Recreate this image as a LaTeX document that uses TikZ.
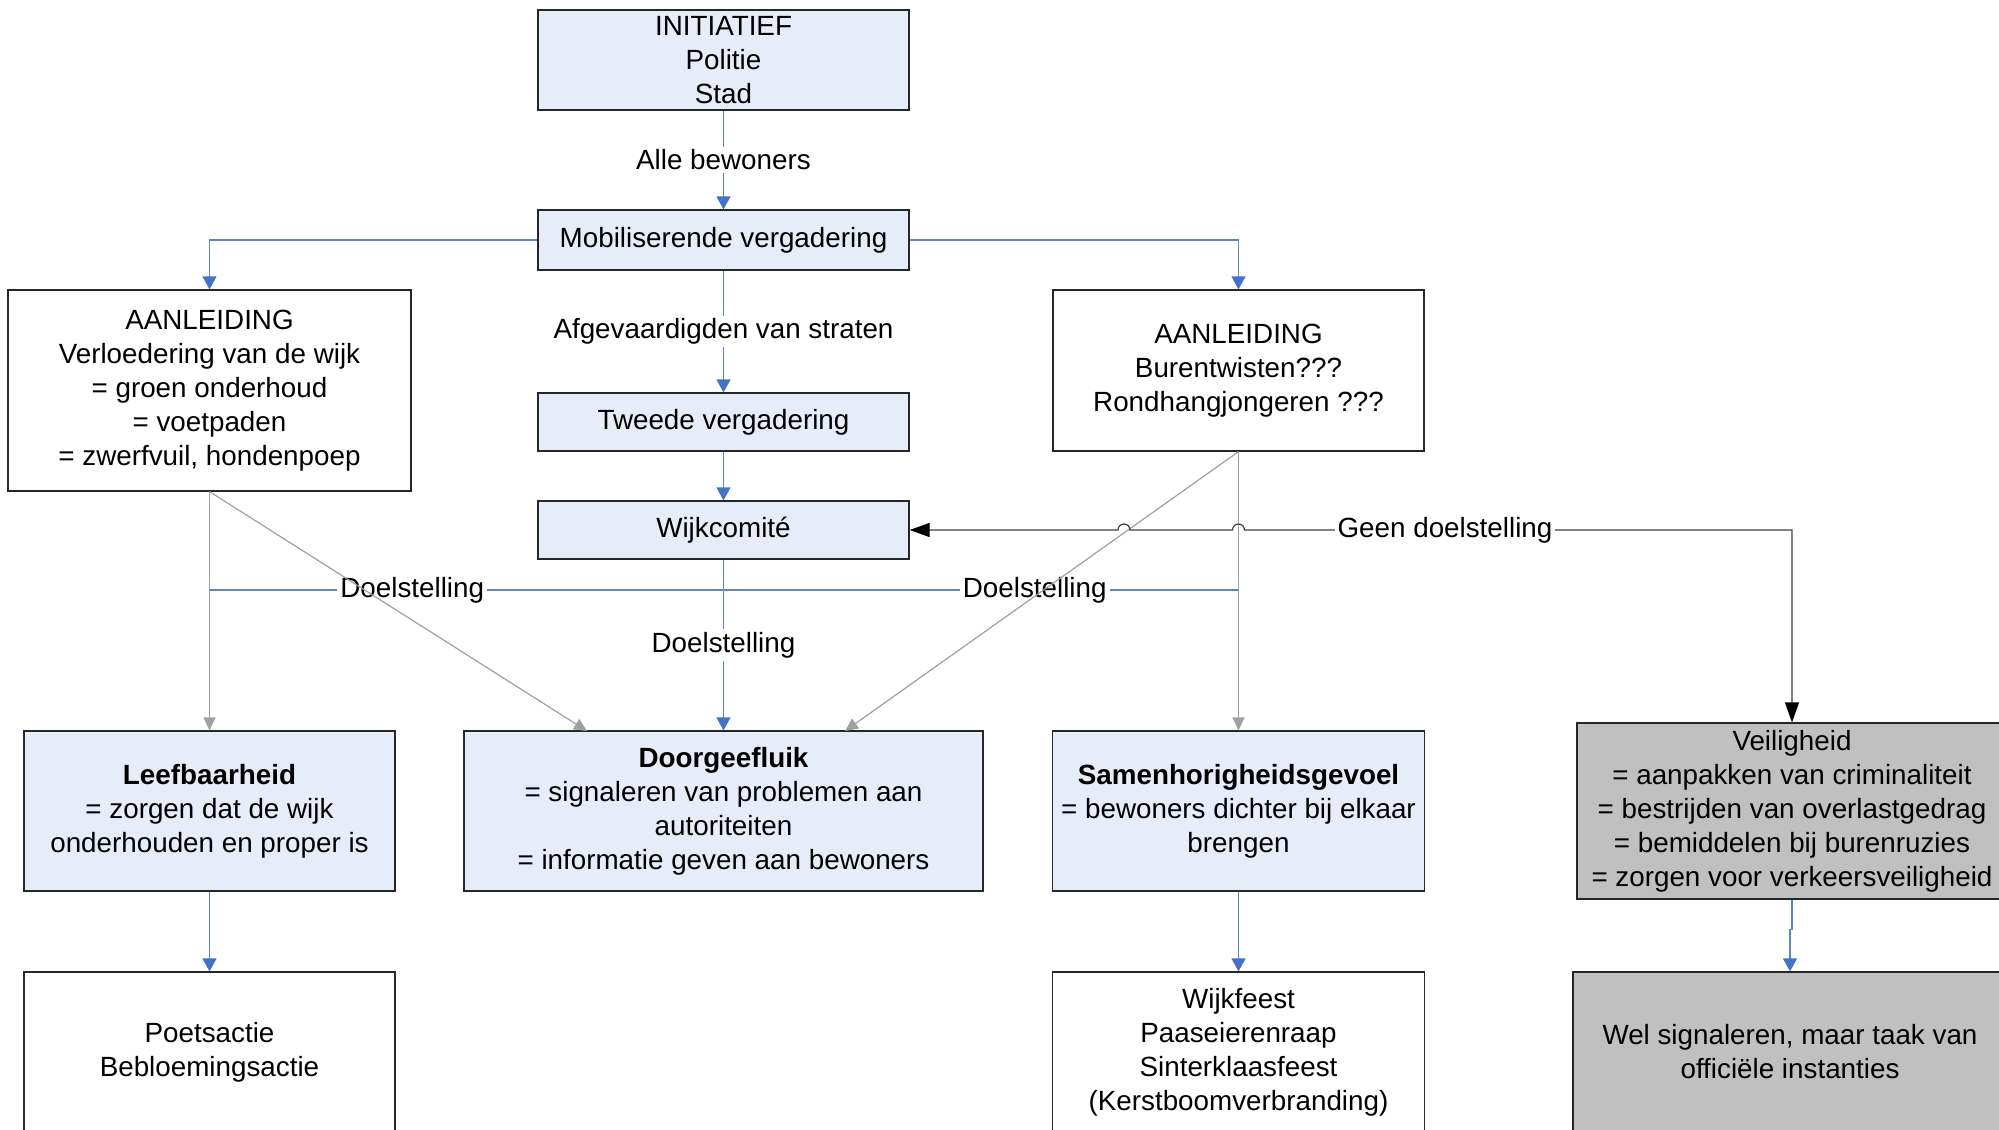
\documentclass[tikz,border=0pt]{standalone}
\usepackage{fontspec}
\setmainfont{Liberation Sans}
\usetikzlibrary{arrows.meta}
\definecolor{lblue}{HTML}{E7EDF8}
\definecolor{lnblue}{HTML}{5A87C6}
\definecolor{arblue}{HTML}{4472C4}
\definecolor{gline}{HTML}{A0A0A0}
\definecolor{gfill}{HTML}{C0C0C0}
\begin{document}
\begin{tikzpicture}[x=0.5pt,y=-0.5pt,
  font=\fontsize{13.9pt}{17pt}\selectfont,
  box/.style={draw=black!85, line width=0.6pt, align=center, inner sep=0pt, text=black},
  lbox/.style={box, fill=lblue},
  gbox/.style={box, fill=gfill},
  wbox/.style={box, fill=white},
  bl/.style={draw=lnblue, line width=0.6pt},
  blar/.style={bl, -{Triangle[length=6.5pt,width=7pt,color=arblue]}},
  gr/.style={draw=gline, line width=0.6pt, -{Triangle[length=6.5pt,width=6pt,color=gline]}},
  geen/.style={draw=black!75, line width=0.6pt, {Triangle[length=10pt,width=7pt,color=black]}-{Triangle[length=10pt,width=7pt,color=black]}},
  lab/.style={fill=white, inner sep=1.5pt}
]
\useasboundingbox (0,0) rectangle (1999,1130);

\node[lbox, minimum width=185.5pt, minimum height=50pt] (init) at (723.5,60) {INITIATIEF\\Politie\\Stad};
\node[lbox, minimum width=185.5pt, minimum height=30pt] (mob) at (723.5,240) {Mobiliserende vergadering};
\node[wbox, minimum width=201.5pt, minimum height=100.5pt] (aanL) at (209.5,390.5) {AANLEIDING\\Verloedering van de wijk\\= groen onderhoud\\= voetpaden\\= zwerfvuil, hondenpoep};
\node[lbox, minimum width=185.5pt, minimum height=29pt] (twee) at (723.5,422) {Tweede vergadering};
\node[lbox, minimum width=185.5pt, minimum height=29pt] (wijk) at (723.5,530) {Wijkcomité};
\node[wbox, minimum width=185.5pt, minimum height=80.5pt] (aanR) at (1238.5,370.5) {AANLEIDING\\Burentwisten???\\Rondhangjongeren ???};
\node[lbox, minimum width=185.5pt, minimum height=80pt] (leef) at (209.5,811) {\textbf{Leefbaarheid}\\= zorgen dat de wijk\\onderhouden en proper is};
\node[lbox, minimum width=259.5pt, minimum height=80pt] (door) at (723.5,811) {\textbf{Doorgeefluik}\\= signaleren van problemen aan\\autoriteiten\\= informatie geven aan bewoners};
\node[lbox, minimum width=186pt, minimum height=80pt] (samen) at (1238.5,811) {\textbf{Samenhorigheidsgevoel}\\= bewoners dichter bij elkaar\\brengen};
\node[gbox, minimum width=215pt, minimum height=88pt] (veil) at (1792,811) {Veiligheid\\= aanpakken van criminaliteit\\= bestrijden van overlastgedrag\\= bemiddelen bij burenruzies\\= zorgen voor verkeersveiligheid};
\node[wbox, minimum width=185.5pt, minimum height=80pt] (poets) at (209.5,1052) {Poetsactie\\Bebloemingsactie};
\node[wbox, minimum width=186pt, minimum height=80pt] (wijkf) at (1238.5,1052) {Wijkfeest\\Paaseierenraap\\Sinterklaasfeest\\(Kerstboomverbranding)};
\node[gbox, minimum width=217pt, minimum height=80pt] (wel) at (1790,1052) {Wel signaleren, maar taak van\\officiële instanties};

\coordinate (dL) at (209.5,590);
\coordinate (dR) at (1238.5,590);
\coordinate (dA) at (587,731);
\coordinate (dB) at (845,731);
\coordinate (g1) at (1118,530);
\coordinate (g2) at (1232.5,530);
\coordinate (g3) at (1792,530);

\draw[blar] (init) -- node[lab]{Alle bewoners} (mob);
\draw[blar] (mob.west) -| (aanL.north);
\draw[blar] (mob.east) -| (aanR.north);
\draw[blar] (mob) -- node[lab]{Afgevaardigden van straten} (twee);
\draw[blar] (twee) -- (wijk);
\draw[bl] (dL) -- node[lab,pos=0.197]{Doelstelling} node[lab,pos=0.802]{Doelstelling} (dR);
\draw[blar] (wijk) -- node[lab]{Doelstelling} (door);

\draw[gr] (aanL.south) -- (leef.north);
\draw[gr] (aanL.south) -- (dA);
\draw[gr] (aanR.south) -- (samen.north);
\draw[gr] (aanR.south) -- (dB);

\draw[geen] (wijk.east) -- (g1) arc[start angle=180,end angle=360,radius=6] -- (g2) arc[start angle=180,end angle=360,radius=6] -- (g3) -- (veil.north);
\node[lab] (geenlab) at (1445,530) {Geen doelstelling};

\draw[blar] (veil.south) -- ++(0,30) -| (wel.north);
\draw[blar] (leef) -- (poets);
\draw[blar] (samen) -- (wijkf);
\end{tikzpicture}
\end{document}
